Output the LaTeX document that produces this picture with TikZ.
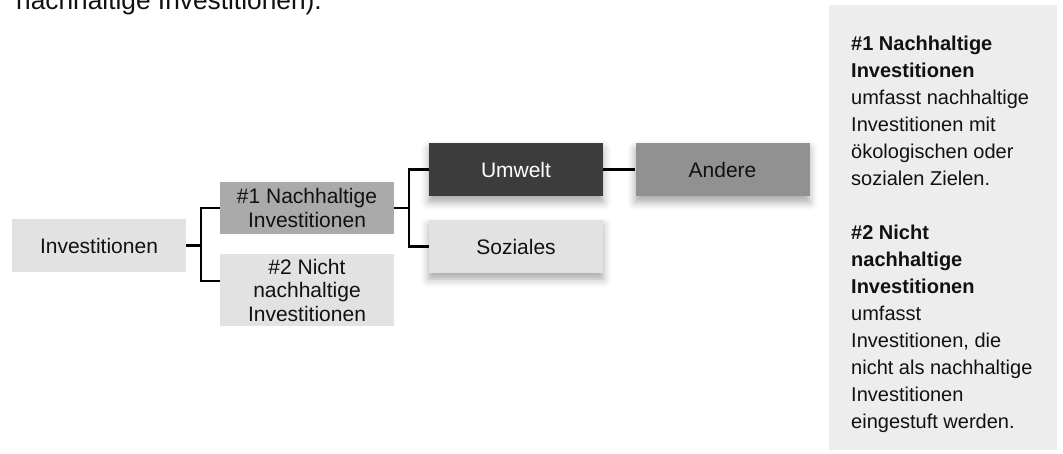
\documentclass[tikz,border=0pt]{standalone}
\usepackage{fontspec}
\setmainfont{Liberation Sans}
\usetikzlibrary{shadows.blur}
\definecolor{lightbox}{HTML}{E2E2E2}
\definecolor{midbox}{HTML}{AAAAAA}
\definecolor{darkbox}{HTML}{3C3C3C}
\definecolor{greybox}{HTML}{919191}
\definecolor{panelbg}{HTML}{EDEDED}
\definecolor{txt}{HTML}{111111}
\begin{document}
\begin{tikzpicture}[x=1pt,y=-1pt,
  box/.style={rectangle, minimum width=174pt, inner sep=0pt, align=center, text=txt, font=\fontsize{21}{23.5}\selectfont},
  shadowed/.style={blur shadow={shadow xshift=0pt, shadow yshift=-6pt, shadow blur radius=8pt, shadow opacity=35}},
  conn/.style={draw=black, line width=2.3pt},
]
\useasboundingbox (0,0) rectangle (1063,453);
\clip (0,0) rectangle (1063,453);

% heading fragment (cut off at top)
\node[anchor=base west, inner sep=0pt, text=txt, font=\fontsize{26.3}{30}\selectfont] (head) at (16,9.5) {nachhaltige Investitionen).};

% tree boxes
\node[box, fill=lightbox, minimum height=53pt] (inv) at (99,245.5) {Investitionen};
\node[box, fill=midbox, minimum height=52pt] (nh) at (307,208) {\#1 Nachhaltige\\Investitionen};
\node[box, fill=lightbox, minimum height=72pt] (nnh) at (307,290) {\#2 Nicht\\nachhaltige\\Investitionen};
\node[box, shadowed, fill=darkbox, text=white, minimum height=53pt] (umw) at (516,169.5) {Umwelt};
\node[box, shadowed, fill=lightbox, minimum height=53pt] (soz) at (516,246.5) {Soziales};
\node[box, shadowed, fill=greybox, minimum height=53pt] (andere) at (722.5,169.5) {Andere};

% connectors
\coordinate (j1) at (201,245.5);
\coordinate (nnhin) at (220,281);
\coordinate (j2) at (409,208);
\draw[conn] (inv.east) -- (j1);
\draw[conn] (nh.west) -| (j1) |- (nnhin);
\draw[conn] (nh.east) -- (j2);
\draw[conn] (umw.west) -| (j2) |- (soz.west);
\draw[conn] (umw.east) -- (andere.west);

% right panel
\node[fill=panelbg, minimum width=228pt, minimum height=445pt, inner sep=0pt, anchor=north west] (panel) at (829,5) {};
\node[anchor=base west, inner sep=0pt, text=txt] (ptext) at (851,50) {\parbox[t]{204pt}{\raggedright\fontsize{20}{27}\selectfont
\textbf{\#1 Nachhaltige}\\
\textbf{Investitionen}\\
umfasst nachhaltige\\
Investitionen mit\\
ökologischen oder\\
sozialen Zielen.\\[27pt]
\textbf{\#2 Nicht}\\
\textbf{nachhaltige}\\
\textbf{Investitionen}\\
umfasst\\
Investitionen, die\\
nicht als nachhaltige\\
Investitionen\\
eingestuft werden.}};
\end{tikzpicture}
\end{document}
